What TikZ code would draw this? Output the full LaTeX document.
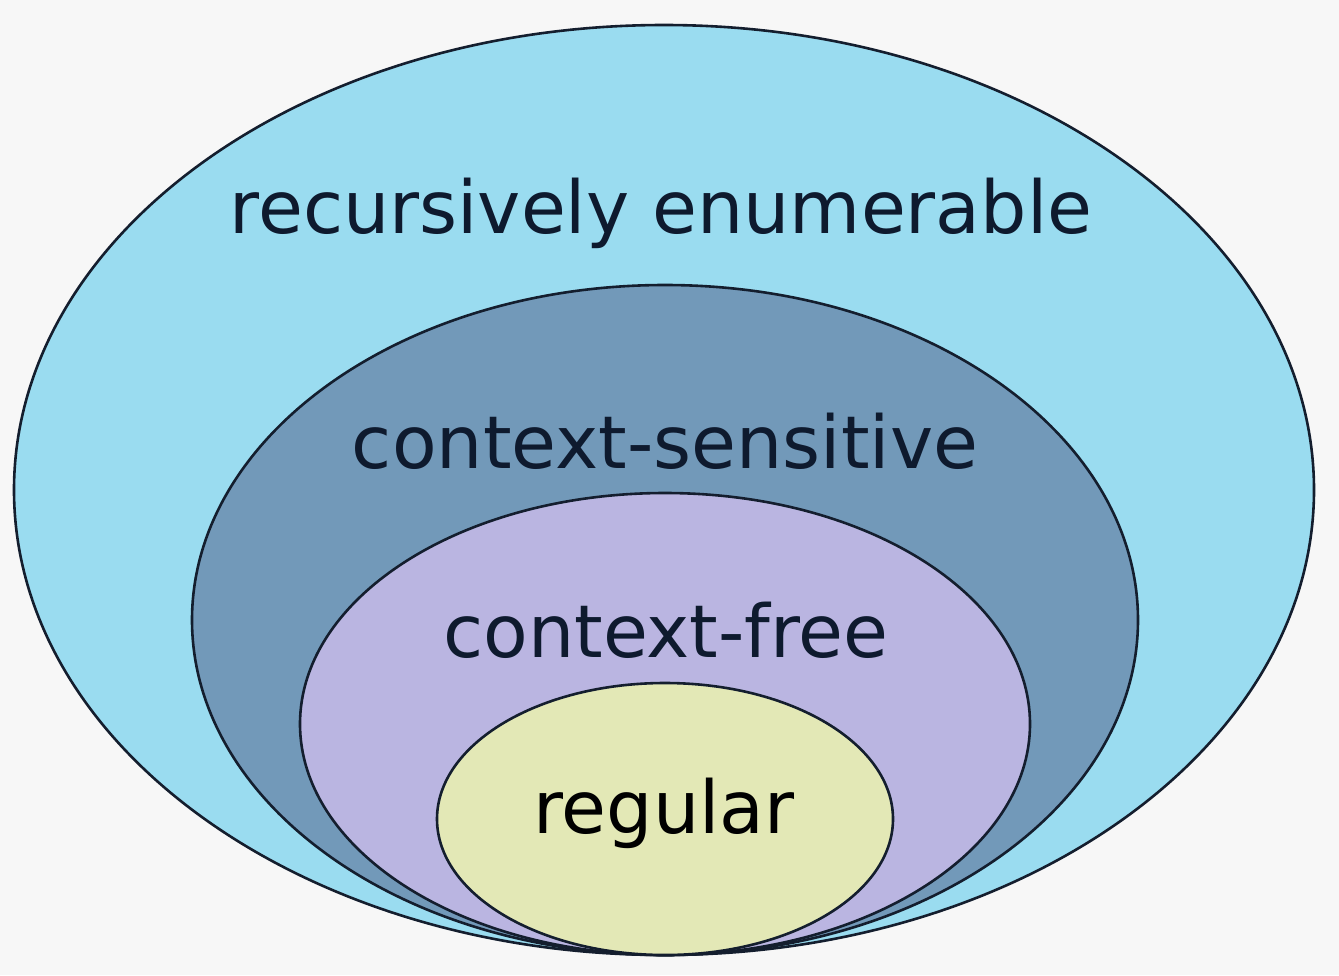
\documentclass[tikz,border=0pt]{standalone}
\usepackage{fontspec}
\setmainfont{DejaVu Sans}
\definecolor{bgc}{HTML}{F7F7F7}
\definecolor{rec}{HTML}{9ADCF0}
\definecolor{cs}{HTML}{7299B9}
\definecolor{cf}{HTML}{BAB5E1}
\definecolor{reg}{HTML}{E3E8B6}
\definecolor{edge}{HTML}{141E2E}
\definecolor{txt}{HTML}{0E1A2E}
\begin{document}
\begin{tikzpicture}[x=1pt,y=-1pt,
  setc/.style={draw=edge,line width=2.6pt},
  lab/.style={font=\fontsize{73}{80}\selectfont,text=txt,inner sep=0pt,anchor=base}]
\useasboundingbox[fill=bgc] (0,0) rectangle (1339,975);
\filldraw[setc,fill=rec] (664,490) ellipse [x radius=650pt,y radius=465pt];
\filldraw[setc,fill=cs] (665,620) ellipse [x radius=473pt,y radius=335pt];
\filldraw[setc,fill=cf] (665,724) ellipse [x radius=365pt,y radius=231pt];
\filldraw[setc,fill=reg] (665,819) ellipse [x radius=228pt,y radius=136pt];
\node[lab] (re) at (661,233) {recursively enumerable};
\node[lab] (csl) at (665,468) {context-sensitive};
\node[lab] (cfl) at (666,657) {context-free};
\node[lab,text=black] (rl) at (664,833) {regular};
\end{tikzpicture}
\end{document}
